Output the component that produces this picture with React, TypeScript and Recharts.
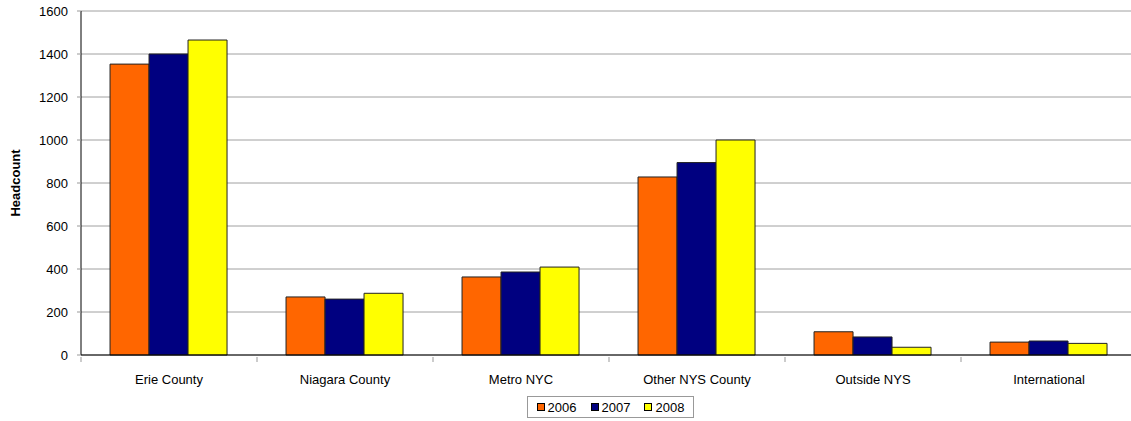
import { Bar, BarChart, CartesianGrid, XAxis, YAxis } from "recharts"

const regions = ["Erie County", "Niagara County", "Metro NYC", "Other NYS County", "Outside NYS", "International"]
const y2006 = [1353, 270, 363, 828, 108, 60]
const y2007 = [1400, 260, 386, 895, 84, 65]
const y2008 = [1465, 287, 409, 1000, 36, 54]
const yTicks = [0, 200, 400, 600, 800, 1000, 1200, 1400, 1600]

const series = [
  { key: "2006", color: "#FF6600" },
  { key: "2007", color: "#000080" },
  { key: "2008", color: "#FFFF00" },
]

const data = regions.map((name, i) => ({
  name,
  "2006": y2006[i],
  "2007": y2007[i],
  "2008": y2008[i],
}))

const font = "Arial, 'Liberation Sans', sans-serif"
const W = 1137
const H = 421
const axisW = 81
const half = (W - axisW) / regions.length / 2

function CatTick(props: any) {
  const { x, y, payload, index } = props
  const off = payload?.offset || half
  return (
    <g>
      <line x1={x - off} x2={x - off} y1={y} y2={y + 5} stroke="#999" />
      {index === regions.length - 1 && (
        <line x1={x + off} x2={x + off} y1={y} y2={y + 5} stroke="#999" />
      )}
      <text x={x} y={y + 27} textAnchor="middle" fontSize={13} fill="#000" fontFamily={font}>
        {payload.value}
      </text>
    </g>
  )
}

export default function App() {
  return (
    <div style={{ position: "absolute", left: 0, top: 0, width: 1131, height: H, overflow: "hidden", background: "#fff" }}>
      <BarChart
        width={W}
        height={H}
        data={data}
        margin={{ top: 11, right: 0, bottom: 0, left: 0 }}
        barCategoryGap="16.5%"
        barGap={0}
      >
        <CartesianGrid vertical={false} stroke="#a0a0a0" />
        <XAxis
          dataKey="name"
          height={66}
          axisLine={{ stroke: "#000" }}
          tickLine={false}
          tickSize={0}
          interval={0}
          tick={<CatTick />}
        />
        <YAxis
          width={axisW}
          domain={[0, 1600]}
          ticks={yTicks}
          axisLine={{ stroke: "#000" }}
          tickLine={{ stroke: "#999" }}
          tickSize={4}
          tickMargin={9}
          tick={{ fontSize: 13, fill: "#000", fontFamily: font }}
          label={{
            content: ({ viewBox }: any) => {
              const cy = viewBox.y + viewBox.height / 2
              return (
                <text
                  x={15}
                  y={cy}
                  transform={`rotate(-90 15 ${cy})`}
                  textAnchor="middle"
                  dominantBaseline="central"
                  fontSize={13}
                  fontWeight="bold"
                  fontFamily={font}
                  fill="#000"
                >
                  Headcount
                </text>
              )
            },
          }}
        />
        {series.map((s) => (
          <Bar
            key={s.key}
            dataKey={s.key}
            fill={s.color}
            stroke="#222"
            strokeWidth={1}
            isAnimationActive={false}
          />
        ))}
      </BarChart>
      <div
        style={{
          position: "absolute",
          left: 527,
          top: 396,
          width: 167,
          height: 22,
          boxSizing: "border-box",
          border: "1px solid #999",
          display: "flex",
          alignItems: "center",
          justifyContent: "center",
          gap: 14,
          fontFamily: font,
          fontSize: 13,
          color: "#000",
        }}
      >
        {series.map((s) => (
          <span key={s.key} style={{ display: "flex", alignItems: "center" }}>
            <span
              style={{
                display: "inline-block",
                width: 6,
                height: 6,
                background: s.color,
                border: "1px solid #000",
                marginRight: 3,
              }}
            />
            {s.key}
          </span>
        ))}
      </div>
    </div>
  )
}
